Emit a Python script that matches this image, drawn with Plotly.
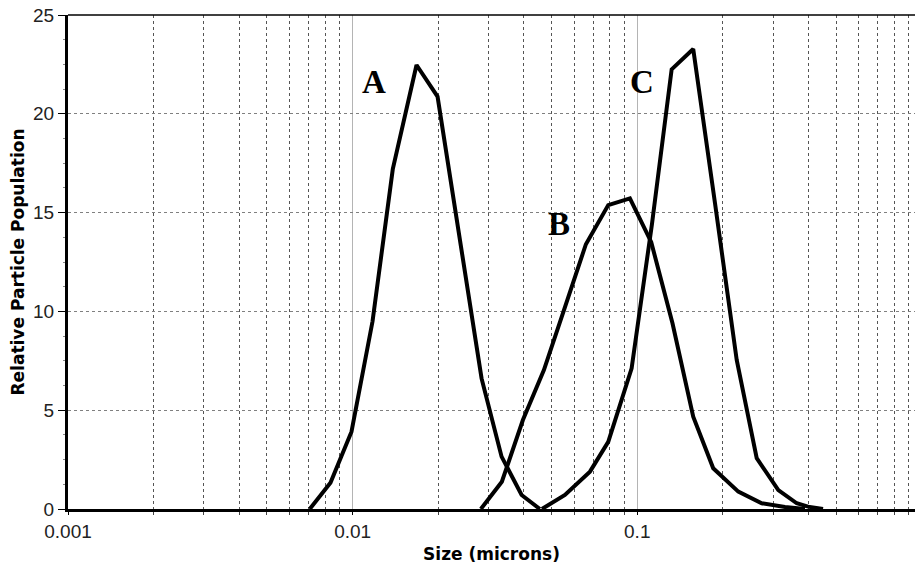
import math
import plotly.graph_objects as go

# Particle size distributions (size in microns, relative population)
a_size = [0.00707, 0.00836, 0.00991, 0.01175, 0.01384, 0.01677, 0.01988,
          0.02375, 0.02838, 0.03337, 0.03924, 0.0455]
a_pop = [0, 1.33, 3.91, 9.5, 17.2, 22.47, 20.87, 13.6, 6.61, 2.65, 0.71, 0]

b_size = [0.02822, 0.03345, 0.03965, 0.04699, 0.05569, 0.06601, 0.07909,
          0.09426, 0.1120, 0.1330, 0.1573, 0.1849, 0.2265, 0.2737, 0.3305, 0.3885]
b_pop = [0, 1.38, 4.5, 7.03, 10.2, 13.4, 15.38, 15.72, 13.5, 9.4, 4.67,
         2.06, 0.88, 0.29, 0.1, 0]

c_size = [0.04624, 0.05571, 0.06821, 0.07909, 0.09556, 0.1126, 0.1321,
          0.1573, 0.1875, 0.2236, 0.2629, 0.3131, 0.3634, 0.398, 0.4495]
c_pop = [0, 0.71, 1.89, 3.4, 7.12, 14.4, 22.25, 23.28, 15.5, 7.54, 2.57,
         0.96, 0.29, 0.12, 0]

# Curve labels and their anchor points
label_text = ["A", "B", "C"]
label_size = [0.01187, 0.0531, 0.1042]
label_pop = [21.6, 14.4, 21.6]

# Axis ticks
x_tick_vals = [0.001, 0.01, 0.1]
x_tick_text = ["0.001", "0.01", "0.1"]
x_minor_vals = [m * 10 ** e for e in (-3, -2, -1) for m in range(2, 10)]
y_tick_vals = [0, 5, 10, 15, 20, 25]

fig = go.Figure()
for xs, ys in ((a_size, a_pop), (b_size, b_pop), (c_size, c_pop)):
    fig.add_trace(go.Scatter(
        x=xs, y=ys, mode="lines",
        line=dict(color="black", width=4),
        showlegend=False, hoverinfo="skip",
    ))

for t, xv, yv in zip(label_text, label_size, label_pop):
    fig.add_annotation(
        x=math.log10(xv), y=yv, xref="x", yref="y", text=t, showarrow=False,
        font=dict(family="Liberation Serif", size=33, color="black", weight="bold"),
    )

tick_font = dict(family="Liberation Sans", size=19, color="#222")
title_font = dict(family="DejaVu Sans", size=17, color="black", weight="bold")

fig.update_xaxes(
    type="log", range=[-3, math.log10(0.946)],
    tickmode="array", tickvals=x_tick_vals, ticktext=x_tick_text,
    tickfont=tick_font, ticks="outside", ticklen=3, tickcolor="black",
    showgrid=True, gridcolor="#b4b4b4", gridwidth=1,
    minor=dict(tickmode="array", tickvals=x_minor_vals, ticks="outside",
               ticklen=3, tickcolor="#444", showgrid=True,
               gridcolor="#555", griddash="3px,3px", gridwidth=1),
    showline=True, linecolor="black", linewidth=3,
    zeroline=False,
    title=dict(text="Size (microns)", font=title_font, standoff=8),
)
fig.update_yaxes(
    range=[0, 25], tickmode="array", tickvals=y_tick_vals,
    tickfont=tick_font, ticks="outside", ticklen=7, tickcolor="black",
    showgrid=True, gridcolor="#808080", griddash="3px,3px", gridwidth=1,
    minor=dict(dtick=1.25, ticks="outside", ticklen=2, tickcolor="#888",
               showgrid=False),
    showline=True, linecolor="black", linewidth=3,
    zeroline=False,
    title=dict(text="Relative Particle Population", font=title_font, standoff=5),
)

# Thin frame line along the top of the plotting area
fig.add_shape(type="line", xref="paper", yref="paper", x0=0, x1=1, y0=1, y1=1,
              line=dict(color="black", width=1.5))

fig.update_layout(
    width=915, height=568,
    margin=dict(l=68, r=0, t=15, b=59),
    paper_bgcolor="white", plot_bgcolor="white",
)

fig.write_html("out.html")
